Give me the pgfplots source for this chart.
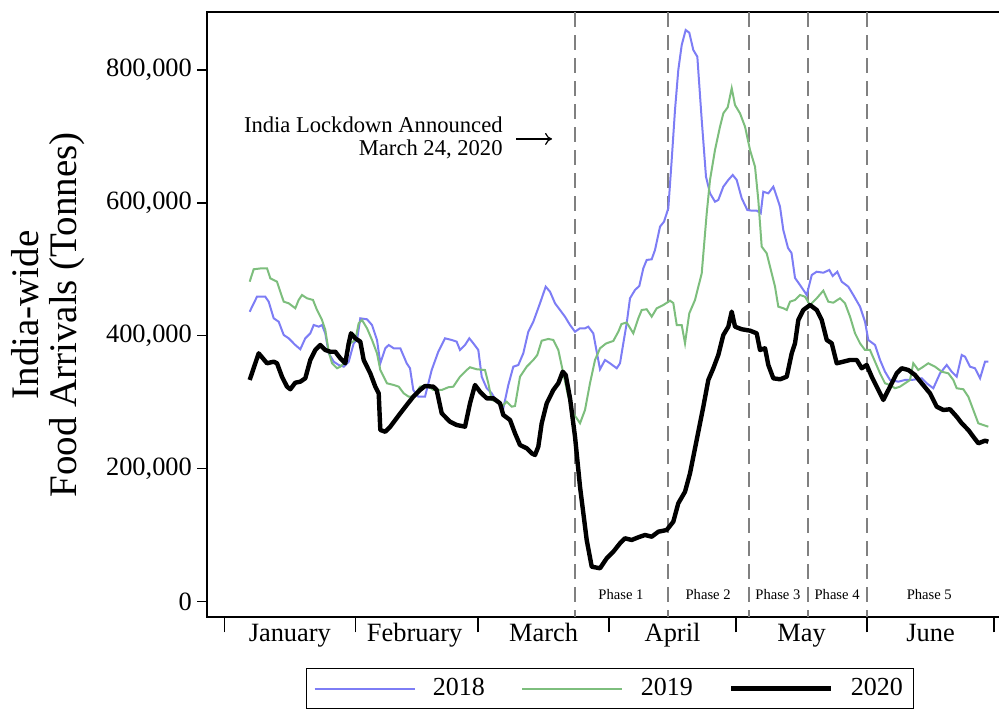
\documentclass[border=0pt]{standalone}
\usepackage{fontspec}
\setmainfont{Liberation Serif}
\usepackage{pgfplots}
\pgfplotsset{compat=1.18}
\usetikzlibrary{arrows.meta}
\definecolor{c2018}{RGB}{125,125,245}
\definecolor{c2019}{RGB}{125,190,125}
\definecolor{phasegray}{RGB}{128,128,128}
\begin{document}
\begin{tikzpicture}
\begin{axis}[
  scale only axis, width=397pt, height=302.6pt,
  xmin=-4.02, xmax=183.73, ymin=-24080, ymax=886750,
  axis line style={line width=1pt},
  tick style={line width=0.7pt, black},
  tick align=outside,
  major tick length=5pt, minor tick length=7.5pt,
  xtick pos=left, ytick pos=left,
  xtick={15.5,45,75.5,106,136.5,167},
  xticklabels={January,February,March,April,May,June},
  minor xtick={0,31,60,91,121,152,182},
  major x tick style={draw=none},
  ytick={0,200000,400000,600000,800000},
  scaled y ticks=false,
  /pgf/number format/fixed,
  /pgf/number format/1000 sep={,},
  /pgf/number format/assume math mode=true,
  tick label style={font=\fontsize{13.2}{15}\selectfont},
  yticklabel style={inner sep=0pt, xshift=-2.5pt},
  xticklabel style={anchor=base, inner sep=0pt, yshift=-7.25pt},
  ylabel={India-wide\\Food Arrivals (Tonnes)},
  ylabel style={align=center, font=\fontsize{19.5}{19}\selectfont, at={(axis description cs:-0.154,0.5)}, anchor=south, inner sep=0pt},
  legend columns=3,
  legend style={at={(0.5075,-0.0834)}, anchor=north, draw=black, line width=0.5pt,
    font=\fontsize{13}{15}\selectfont, inner xsep=3.5pt, inner ysep=3pt,
    /tikz/every odd column/.append style={column sep=6.7pt},
    /tikz/every even column/.append style={column sep=16.2pt}},
  legend image code/.code={\draw[#1] (0pt,0pt) -- (50pt,0pt);},
]
\pgfplotsinvokeforeach{83,105,124,138,152}{
  \draw[phasegray, line width=1pt, dash pattern=on 7.5pt off 4pt] (axis cs:#1,886750) -- (axis cs:#1,-24080);
}
\addplot[c2018, line width=1pt] coordinates {
(6.0,436100)(7.73,458700)(9.69,458700)(10.50,451200)(11.68,426200)(12.86,421100)(14.05,401100)(15.23,396100)(16.79,386000)(17.97,379600)(19.15,396100)(20.34,403600)(21.14,416100)(22.32,413600)(23.10,416100)(23.88,403600)(24.69,373500)(25.87,360900)(27.05,355900)(28.23,353400)(29.42,360900)(30.60,388600)(31.38,393600)(32.16,426200)(33.74,424700)(34.93,416100)(36.11,393600)(36.89,358500)(38.07,381100)(38.87,386000)(40.06,381100)(41.62,381100)(43.13,358500)(43.91,351000)(44.69,318300)(45.87,308200)(47.46,308200)(49.04,348400)(50.60,375900)(52.19,396100)(53.77,393600)(54.95,391000)(55.73,378500)(56.92,386000)(57.93,396100)(58.88,388600)(60.06,378500)(60.87,338300)(62.05,320900)(63.23,313300)(64.41,300700)(65.97,290800)(67.16,325800)(68.34,353400)(69.52,355900)(70.70,373500)(71.88,406000)(73.07,421100)(74.65,448800)(76.0,473800)(77.02,466200)(78.20,448800)(79.38,438700)(80.56,428600)(81.75,416100)(82.93,406000)(84.11,411200)(85.29,411200)(86.07,413600)(87.25,403600)(88.06,375900)(88.84,349500)(90.02,363500)(91.20,358500)(92.79,351000)(93.57,358500)(94.35,388600)(95.15,418700)(95.93,456300)(97.11,468800)(98.13,474800)(99.08,501500)(99.88,514000)(101.06,515000)(101.84,529000)(103.03,564100)(103.97,571600)(104.99,591800)(105.79,664500)(106.57,739700)(107.35,799900)(108.16,837500)(109.10,860100)(109.95,856000)(110.90,830000)(111.85,819900)(112.89,724700)(113.90,639300)(114.85,614300)(116.03,601700)(116.81,604300)(118.0,624300)(119.18,634400)(120.22,641900)(121.16,634400)(122.35,606800)(123.67,589200)(124.71,588200)(125.89,588200)(126.84,584200)(127.45,616700)(128.64,614300)(129.82,624300)(130.76,606800)(131.40,594200)(132.18,559100)(133.29,532000)(134.12,524500)(134.95,486900)(136.13,476300)(137.72,461300)(138.90,491400)(140.08,496300)(141.64,494800)(143.06,498900)(143.86,489900)(144.95,496300)(145.99,481300)(147.55,473800)(148.73,461300)(150.32,443700)(151.50,421100)(152.28,393600)(153.87,386000)(155.05,363500)(156.23,345800)(157.41,333400)(159.38,330800)(160.96,333400)(162.54,333400)(164.91,335900)(166.09,328400)(167.65,320900)(169.24,343400)(170.82,355900)(172.0,345800)(173.18,338300)(174.37,371000)(175.15,368400)(176.33,353400)(177.51,351000)(178.70,335900)(179.88,360900)(180.66,360900)
};
\addlegendentry{2018}
\addplot[c2019, line width=1pt] coordinates {
(6.0,481300)(6.95,500000)(8.91,501500)(10.10,501500)(10.88,486400)(12.46,481300)(13.24,466200)(14.05,451200)(15.23,448800)(16.79,441300)(17.59,453800)(18.37,461300)(19.56,456300)(20.97,453800)(21.92,438700)(23.10,423700)(23.88,408600)(24.69,375900)(25.47,358500)(26.65,351000)(27.43,353400)(28.61,360900)(29.79,388600)(30.98,393600)(31.78,418700)(32.56,423700)(33.74,411200)(34.93,393600)(36.11,373500)(36.89,348400)(38.47,328400)(40.06,325800)(41.24,323300)(42.42,313300)(43.60,308200)(44.74,308200)(46.28,323300)(47.86,325800)(49.42,318300)(51.41,318300)(52.97,322400)(54.15,323300)(55.73,338300)(57.32,348400)(58.10,352500)(59.68,349500)(61.65,348400)(62.43,328400)(63.23,303300)(64.41,300700)(65.59,293200)(66.78,300700)(67.96,293200)(68.74,294200)(69.92,338300)(71.51,353400)(73.07,363500)(74.01,371000)(75.05,392500)(76.61,395100)(77.80,393600)(78.98,378500)(80.16,343400)(81.34,308200)(82.53,283200)(84.11,268200)(85.29,288200)(86.47,328400)(87.66,363500)(88.84,381100)(90.26,388300)(91.98,392100)(93.17,406000)(93.92,417600)(95.15,419900)(96.71,403600)(97.90,426200)(98.70,438700)(99.88,439800)(101.06,428600)(102.25,441300)(103.81,446200)(105.39,452700)(106.17,449200)(106.98,416100)(108.16,416100)(108.94,388600)(109.95,433700)(111.30,453800)(112.89,493900)(114.07,584200)(114.85,634400)(116.03,679500)(117.21,714600)(118.0,734700)(119.04,743800)(119.98,772400)(120.76,747200)(121.94,734700)(123.13,714600)(124.31,679500)(125.49,654400)(126.27,604300)(127.07,534000)(128.26,524000)(129.44,493900)(130.22,473800)(131.0,443700)(132.18,441300)(132.99,438700)(133.77,451200)(134.95,453800)(136.13,461300)(137.31,458700)(138.50,446200)(140.08,456300)(141.64,467800)(142.82,451200)(144.0,449700)(145.59,456300)(146.77,448800)(147.96,428600)(149.14,403600)(150.32,388600)(151.50,378500)(152.68,378500)(153.87,360900)(155.05,343400)(156.23,328400)(157.41,325800)(158.59,320900)(159.78,323300)(160.96,328400)(162.14,333400)(162.92,358500)(164.10,348400)(165.29,353400)(166.47,358500)(168.05,353400)(169.64,345800)(171.20,343400)(172.38,333400)(173.18,320900)(174.75,319400)(175.93,308200)(177.11,288200)(178.29,268200)(179.47,265600)(180.66,263100)
};
\addlegendentry{2019}
\addplot[black, line width=2.2pt, line join=round] coordinates {
(6.0,333400)(8.13,373500)(10.1,358500)(11.68,360900)(12.46,358500)(13.64,338300)(14.83,323300)(15.61,319400)(16.79,329300)(17.97,330800)(19.15,335900)(20.34,363500)(21.52,378500)(22.70,386000)(23.88,378500)(25.07,375900)(26.25,375900)(27.43,366000)(28.61,358500)(29.42,388600)(29.96,403600)(30.98,396100)(32.16,391000)(32.96,363500)(34.52,343400)(35.71,323300)(36.51,313300)(36.89,258100)(38.07,255500)(39.25,263100)(41.62,283200)(43.13,295700)(44.69,308200)(46.28,318300)(47.46,324300)(49.42,323300)(50.22,318300)(51.41,283200)(53.37,270600)(54.95,265600)(56.92,263100)(58.10,298300)(59.28,325800)(60.46,315700)(62.05,305800)(63.61,305800)(65.19,298300)(65.97,280700)(67.56,273200)(68.74,253100)(69.92,235500)(71.51,230600)(72.69,223000)(73.47,220500)(74.25,233000)(75.05,268200)(76.24,298300)(77.80,318300)(78.98,328400)(80.02,345800)(80.73,340900)(81.75,305800)(82.93,248000)(84.11,172800)(85.69,92600)(86.88,52400)(88.84,50000)(90.42,65000)(91.98,74900)(93.57,87600)(94.75,95100)(96.33,92600)(97.90,96600)(99.48,100100)(101.06,97500)(102.62,105000)(104.61,107600)(106.17,120100)(107.35,147800)(108.94,165200)(110.12,192900)(111.70,243100)(113.27,293200)(114.45,333400)(115.63,351000)(116.81,371000)(118.0,401100)(119.18,413600)(119.98,436200)(120.76,413600)(122.35,409700)(124.31,407600)(125.89,403600)(126.67,378500)(127.86,381100)(128.64,355900)(129.82,335900)(131.40,334400)(132.99,338300)(134.17,373500)(134.95,388600)(135.73,423700)(136.91,438700)(138.50,446200)(140.08,438700)(141.26,423700)(142.45,393600)(143.63,388600)(144.81,358500)(146.37,360900)(147.96,363500)(149.54,363500)(150.72,351000)(151.90,355900)(153.09,338300)(154.27,323300)(155.83,303300)(157.41,323300)(159.0,343400)(160.18,351000)(161.74,348400)(163.32,340900)(164.91,328400)(166.87,313300)(168.45,293200)(170.02,288200)(171.60,289300)(173.18,278100)(174.37,268200)(175.93,258100)(177.11,248000)(178.29,238100)(179.88,242000)(180.66,240500)
};
\addlegendentry{2020}
\node[anchor=east, align=right, inner sep=0pt, font=\fontsize{11.3}{11.3}\selectfont] at (axis cs:65.9,697600) {India Lockdown Announced\\March 24, 2020};
\draw[-{To[length=3.5pt,width=6pt]}, line width=0.6pt] (axis cs:69.0,696100) -- (axis cs:77.5,696100);
\node[font=\fontsize{7.3}{8}\selectfont] at (axis cs:93.8,10000) {Phase 1};
\node[font=\fontsize{7.3}{8}\selectfont] at (axis cs:114.4,10000) {Phase 2};
\node[font=\fontsize{7.3}{8}\selectfont] at (axis cs:130.9,10000) {Phase 3};
\node[font=\fontsize{7.3}{8}\selectfont] at (axis cs:144.9,10000) {Phase 4};
\node[font=\fontsize{7.3}{8}\selectfont] at (axis cs:166.7,10000) {Phase 5};
\end{axis}
\pgfresetboundingbox
\path[use as bounding box] (-103.65pt,-46.25pt) rectangle (395.85pt,308.75pt);
\end{tikzpicture}
\end{document}
